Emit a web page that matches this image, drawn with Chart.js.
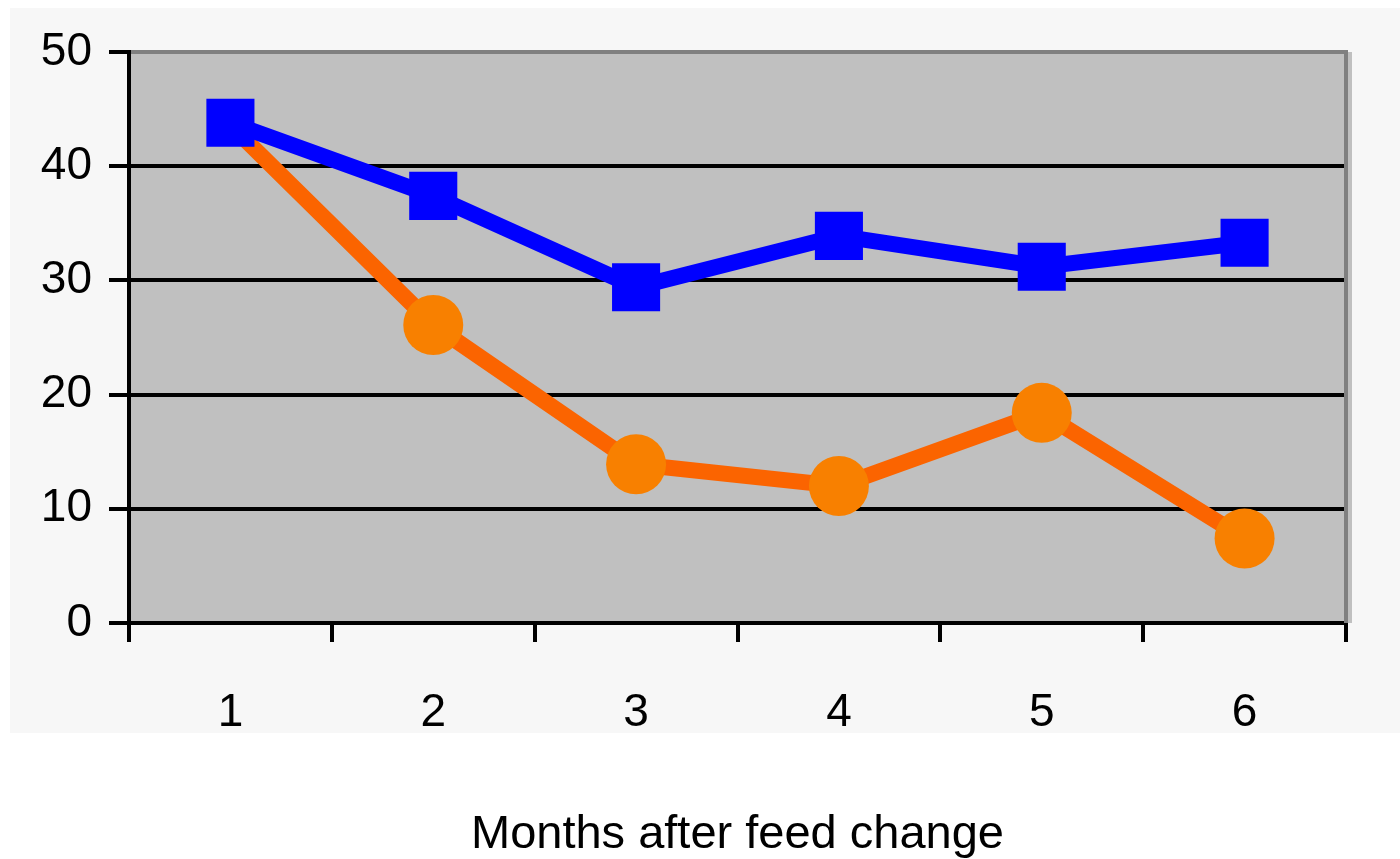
<!DOCTYPE html>
<html>
<head>
<meta charset="utf-8">
<script src="https://cdn.jsdelivr.net/npm/chart.js@4/dist/chart.umd.min.js"></script>
<style>
  html, body { margin: 0; padding: 0; background: #ffffff; }
  #wrap { width: 1400px; height: 859px; position: relative; }
</style>
</head>
<body>
<div id="wrap"><canvas id="c" width="1400" height="859"></canvas></div>
<script>
const categories = ['1', '2', '3', '4', '5', '6'];
const blueValues = [43.8, 37.4, 29.4, 33.9, 31.2, 33.3];
const orangeValues = [43.6, 26.1, 13.9, 12.0, 18.4, 7.4];
const yTickValues = [0, 10, 20, 30, 40, 50];
const xAxisTitle = 'Months after feed change';

const bgPlugin = {
  id: 'bgPlugin',
  beforeDraw(chart) {
    const { ctx, chartArea: a } = chart;
    ctx.save();
    ctx.fillStyle = '#ffffff';
    ctx.fillRect(0, 0, chart.width, chart.height);
    ctx.fillStyle = '#f7f7f7';
    ctx.fillRect(10, 8, chart.width - 10, 725);
    ctx.fillStyle = '#c0c0c0';
    ctx.fillRect(a.left, a.top, a.right - a.left + 6, a.bottom - a.top);
    ctx.restore();
  },
  beforeDatasetsDraw(chart) {
    const { ctx, chartArea: a } = chart;
    ctx.save();
    ctx.fillStyle = '#808080';
    ctx.fillRect(a.right - 2, a.top - 2, 4, a.bottom - a.top + 2);
    ctx.restore();
  }
};

const tickFont = { family: '"Liberation Sans", Arial, sans-serif', size: 46, lineHeight: 1.2 };

new Chart(document.getElementById('c'), {
  type: 'line',
  data: {
    labels: categories,
    datasets: [
      {
        data: blueValues,
        borderColor: '#0000ff',
        backgroundColor: '#0000ff',
        borderWidth: 16,
        tension: 0,
        pointStyle: 'rect',
        pointRadius: 34,
        pointBorderWidth: 0,
        pointBackgroundColor: '#0000ff'
      },
      {
        data: orangeValues,
        borderColor: '#fb6400',
        backgroundColor: '#f88000',
        borderWidth: 16,
        tension: 0,
        pointStyle: 'circle',
        pointRadius: [0, 30, 30, 30, 30, 30],
        pointBorderWidth: 0,
        pointBackgroundColor: '#f88000'
      }
    ]
  },
  options: {
    responsive: false,
    animation: false,
    layout: { padding: { top: 52, right: 54, left: 0, bottom: 0 } },
    plugins: { legend: { display: false }, tooltip: { enabled: false } },
    scales: {
      x: {
        type: 'category',
        offset: true,
        afterFit(scale) { scale.height = 236; },
        grid: {
          offset: true,
          drawOnChartArea: false,
          drawTicks: true,
          tickLength: 19,
          tickWidth: 4,
          tickColor: '#000000',
          color: '#000000',
          lineWidth: 4
        },
        border: { display: true, color: '#000000', width: 4 },
        ticks: { color: '#000000', font: tickFont, padding: 44, maxRotation: 0 },
        title: {
          display: true,
          text: xAxisTitle,
          color: '#000000',
          font: { family: '"Liberation Sans", Arial, sans-serif', size: 47, lineHeight: 1 },
          padding: { top: 0, bottom: 0.5 }
        }
      },
      y: {
        min: 0,
        max: 50,
        afterFit(scale) { scale.width = 129; },
        afterBuildTicks(scale) { scale.ticks = yTickValues.map(v => ({ value: v })); },
        grid: {
          color: (c) => (c.tick && c.tick.value === 50 ? '#808080' : '#000000'),
          tickColor: '#000000',
          lineWidth: 4,
          tickWidth: 4,
          tickLength: 20,
          drawTicks: true
        },
        border: { display: true, color: '#000000', width: 4 },
        ticks: { color: '#000000', font: tickFont, padding: 17, stepSize: 10 }
      }
    }
  },
  plugins: [bgPlugin]
});
</script>
</body>
</html>
